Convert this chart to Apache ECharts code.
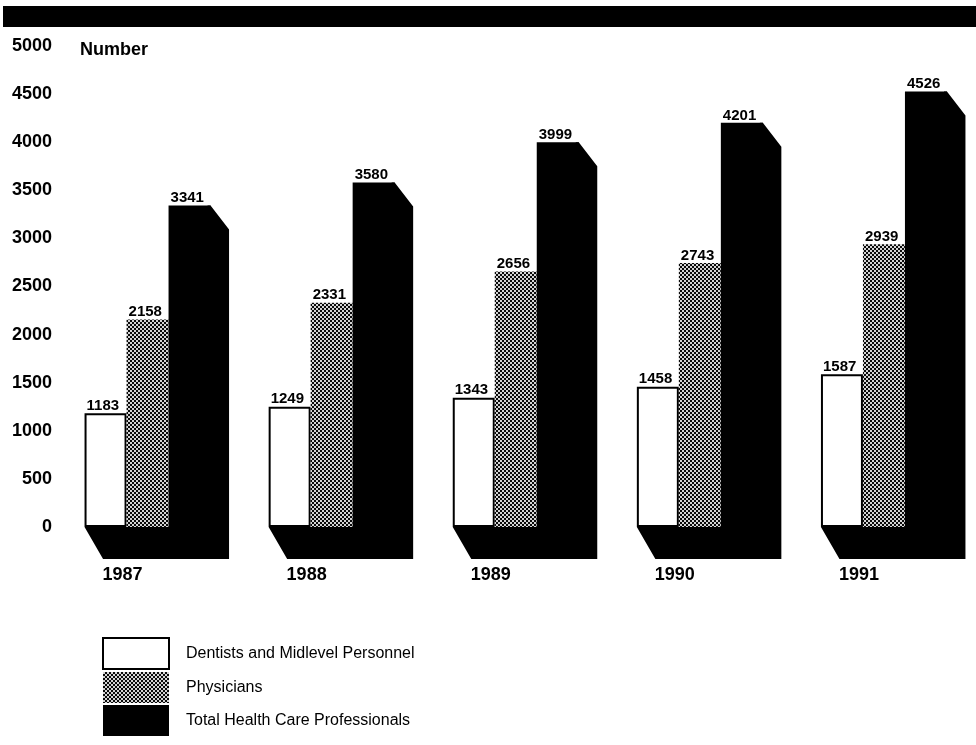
<!DOCTYPE html>
<html>
<head>
<meta charset="utf-8">
<script src="https://cdn.jsdelivr.net/npm/echarts@6/dist/echarts.min.js"></script>
<style>
  html, body { margin: 0; padding: 0; background: #fff; }
  #chart { width: 976px; height: 745px; }
</style>
</head>
<body>
<div id="chart"></div>
<script>
// Health care professionals by year
const categories = ['1987', '1988', '1989', '1990', '1991'];
const dentists = [1183, 1249, 1343, 1458, 1587];
const physicians = [2158, 2331, 2656, 2743, 2939];
const totals = [3341, 3580, 3999, 4201, 4526];
const seriesNames = ['Dentists and Midlevel Personnel', 'Physicians', 'Total Health Care Professionals'];
const yMin = 0, yMax = 5000, yStep = 500;

const FONT = '"Liberation Sans", Arial, Helvetica, sans-serif';

// Stippled fill for the physicians bars
function dotPattern() {
  const c = document.createElement('canvas');
  c.width = 4; c.height = 4;
  const g = c.getContext('2d');
  g.fillStyle = '#0a0a0a';
  g.fillRect(0, 0, 4, 4);
  g.fillStyle = '#d4d4d4';
  g.fillRect(0, 0, 2, 2);
  g.fillRect(2, 2, 2, 2);
  return c;
}
const stipple = { image: dotPattern(), repeat: 'repeat' };

const BAR_W = 42;
const DEPTH_X = 18.5, DEPTH_TOP = 24, DEPTH_FLOOR = 32;

const valueLabel = {
  show: true,
  position: 'top',
  distance: 0,
  align: 'left',
  offset: [-(BAR_W / 2) + 2, 0],
  color: '#000',
  fontFamily: FONT,
  fontWeight: 'bold',
  fontSize: 15
};

const chart = echarts.init(document.getElementById('chart'), null, { renderer: 'canvas' });

chart.setOption({
  animation: false,
  backgroundColor: '#fff',
  grid: { left: 55.5, width: 925, top: 46, bottom: 218, containLabel: false },
  xAxis: {
    type: 'category',
    data: categories,
    boundaryGap: true,
    axisLine: { show: false },
    axisTick: { show: false },
    axisLabel: {
      color: '#000',
      fontFamily: FONT,
      fontWeight: 'bold',
      fontSize: 18,
      align: 'right',
      padding: [0, 5, 0, 0],
      margin: 39
    },
    splitLine: { show: false }
  },
  yAxis: {
    type: 'value',
    min: yMin,
    max: yMax,
    interval: yStep,
    axisLine: { show: false },
    axisTick: { show: false },
    splitLine: { show: false },
    axisLabel: {
      color: '#000',
      fontFamily: FONT,
      fontWeight: 'bold',
      fontSize: 18,
      margin: 3.5,
      padding: [7, 0, 0, 0],
      formatter: function (v) { return String(v); }
    }
  },
  legend: {
    orient: 'vertical',
    left: 102,
    top: 637,
    padding: 0,
    itemWidth: 66,
    itemHeight: 31,
    itemGap: 2,
    icon: 'rect',
    selectedMode: false,
    textStyle: { color: '#000', fontFamily: FONT, fontSize: 16, padding: [0, 0, 0, 12] },
    data: [
      { name: seriesNames[0], itemStyle: { color: '#fff', borderColor: '#000', borderWidth: 2 } },
      { name: seriesNames[1] },
      { name: seriesNames[2] }
    ]
  },
  graphic: [
    { type: 'rect', left: 3, top: 6, shape: { width: 973, height: 21 }, style: { fill: '#000' }, z: 10 },
    {
      type: 'text', left: 80, top: 41,
      style: { text: 'Number', fill: '#000', font: 'bold 18px ' + FONT }
    }
  ],
  series: [
    {
      // black extrusion (floor and right side) behind each year's bars
      type: 'custom',
      name: 'depth',
      z: 1,
      silent: true,
      data: totals.map((v, i) => [i, v]),
      renderItem: function (params, api) {
        const top = api.coord([api.value(0), api.value(1)]);
        const base = api.coord([api.value(0), 0]);
        const half = BAR_W * 1.5;
        const x0 = top[0] - half, x3 = top[0] + half;
        return {
          type: 'polygon',
          shape: {
            points: [
              [x0, base[1]],
              [x0 + DEPTH_X, base[1] + DEPTH_FLOOR],
              [x3 + DEPTH_X, base[1] + DEPTH_FLOOR],
              [x3 + DEPTH_X, top[1] + DEPTH_TOP],
              [x3, top[1]],
              [x3 - 3, top[1]],
              [x3 - 3, base[1]]
            ]
          },
          style: { fill: '#000' }
        };
      }
    },
    {
      type: 'bar',
      name: seriesNames[0],
      data: dentists,
      barWidth: BAR_W,
      barGap: '0%',
      z: 3,
      itemStyle: { color: '#fff', borderColor: '#000', borderWidth: 2 },
      label: valueLabel
    },
    {
      type: 'bar',
      name: seriesNames[1],
      data: physicians,
      barWidth: BAR_W,
      barGap: '0%',
      z: 3,
      itemStyle: { color: stipple },
      label: valueLabel
    },
    {
      type: 'bar',
      name: seriesNames[2],
      data: totals,
      barWidth: BAR_W,
      barGap: '0%',
      z: 3,
      itemStyle: { color: '#000' },
      label: valueLabel
    }
  ]
});
</script>
</body>
</html>
